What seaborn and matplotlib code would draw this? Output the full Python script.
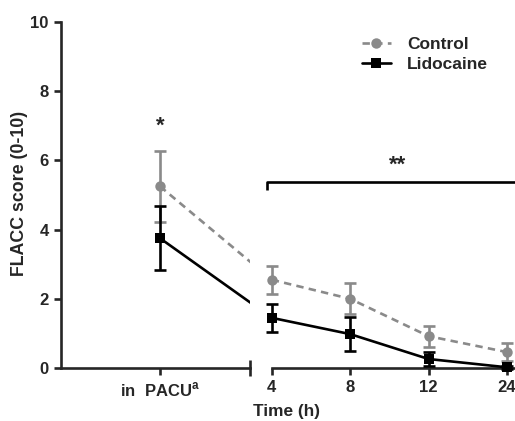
"""FLACC score over time: control vs lidocaine, broken x axis."""

import matplotlib
matplotlib.use("Agg")
import matplotlib.pyplot as plt
from matplotlib.lines import Line2D
import pandas as pd
import seaborn as sns

groups = ["Control", "Lidocaine"]
time_labels = ["4", "8", "12", "24"]
pacu_label = "in  PACU$^\\mathbf{a}$"

control_pacu = 5.25
control_pacu_err = 1.02
control_mean = [2.55, 2.0, 0.92, 0.46]
control_err = [0.4, 0.45, 0.3, 0.27]

lido_pacu = 3.75
lido_pacu_err = 0.92
lido_mean = [1.45, 0.98, 0.26, 0.02]
lido_err = [0.4, 0.48, 0.2, 0.05]

colors = {"Control": "#8a8a8a", "Lidocaine": "#000000"}
markers = {"Control": "o", "Lidocaine": "s"}
dashes = {"Control": (2.8, 2.0), "Lidocaine": ""}

sns.set_style("ticks")
plt.rcParams["font.family"] = ["Liberation Sans", "DejaVu Sans"]
plt.rcParams["font.weight"] = "bold"
plt.rcParams["font.size"] = 12
plt.rcParams["mathtext.fontset"] = "custom"
plt.rcParams["mathtext.bf"] = "Liberation Sans:bold"
plt.rcParams["mathtext.rm"] = "Liberation Sans:bold"

W, H = 515, 421
fig = plt.figure(figsize=(W / 100, H / 100), dpi=100)
y0, y1 = 368, 22
ax_l = fig.add_axes([61 / W, (H - y0) / H, (250 - 61) / W, (y0 - y1) / H])
ax_r = fig.add_axes([269 / W, (H - y0) / H, (514 - 269) / W, (y0 - y1) / H], sharey=ax_l)

lw = 1.9
ms = 7.5
ax_l.set_xlim(-1, 0.909)
ax_r.set_xlim(-0.035, 3.09)
ax_l.set_ylim(0, 10)

df = pd.DataFrame({
    "pos": list(range(4)) * 2,
    "score": control_mean + lido_mean,
    "err": control_err + lido_err,
    "group": ["Control"] * 4 + ["Lidocaine"] * 4,
})
pacu = pd.DataFrame({
    "pos": [0, 0],
    "score": [control_pacu, lido_pacu],
    "err": [control_pacu_err, lido_pacu_err],
    "group": groups,
})

# line from PACU towards the 4 h point, clipped by the axis break
x4_disp = ax_r.transData.transform((0, 0))[0]
x4_left = ax_l.transData.inverted().transform((x4_disp, 0))[0]
for i, g in enumerate(groups):
    first = df[df.group == g].iloc[0]
    ax_l.plot([0, x4_left], [pacu.score[i], first.score], color=colors[g],
              lw=lw, dashes=dashes[g] if dashes[g] else (None, None),
              zorder=2 + i)

for ax, d in [(ax_l, pacu), (ax_r, df)]:
    for i, g in enumerate(groups):
        sub = d[d.group == g]
        ax.errorbar(sub.pos, sub.score, yerr=sub.err, fmt="none",
                    ecolor=colors[g], elinewidth=lw, capsize=4, capthick=lw,
                    zorder=2 + i, clip_on=False)

sns.lineplot(data=df, x="pos", y="score", hue="group", style="group",
             palette=colors, markers=markers, dashes=dashes, markersize=ms,
             markeredgewidth=0, linewidth=lw, ax=ax_r, legend=False,
             clip_on=False, zorder=4)
sns.lineplot(data=pacu, x="pos", y="score", hue="group", style="group",
             palette=colors, markers=markers, markersize=ms,
             markeredgewidth=0, ax=ax_l, legend=False, clip_on=False, zorder=4)
# keep lidocaine on top
for ax in (ax_l, ax_r):
    for line in ax.lines:
        if line.get_color() in ("#000000", (0.0, 0.0, 0.0)):
            line.set_zorder(5)

# axes styling
for ax in (ax_l, ax_r):
    ax.spines["top"].set_visible(False)
    ax.spines["right"].set_visible(False)
    ax.spines["bottom"].set_linewidth(lw)
    ax.spines["left"].set_linewidth(lw)
    ax.tick_params(width=lw, length=5, labelsize=12, pad=4)
    ax.set_xlabel("")
    ax.set_ylabel("")

ax_l.set_xticks([0])
ax_l.set_xticklabels([pacu_label], fontweight="bold")
ax_l.set_yticks([0, 2, 4, 6, 8, 10])
ax_l.set_ylabel("FLACC score (0-10)", fontweight="bold", fontsize=12.8)
ax_l.yaxis.set_label_coords(-0.175, 0.505)
ax_l.set_xticks([0.909], minor=True)
ax_l.tick_params(axis="x", which="minor", direction="inout", length=11, width=lw)

ax_r.spines["left"].set_visible(False)
ax_r.spines["bottom"].set_bounds(0, 3.09)
ax_r.tick_params(axis="y", left=False, labelleft=False)
ax_r.set_xticks(range(4))
ax_r.set_xticklabels(time_labels, fontweight="bold")
ax_r.set_xticks([0], minor=True)
ax_r.tick_params(axis="x", which="minor", direction="inout", length=11, width=lw)
ax_r.set_xlabel("Time (h)", fontweight="bold", fontsize=12.4)
ax_r.xaxis.set_label_coords(0.07, -0.105)

# significance marks
ax_l.text(0, 7.0, "*", ha="center", va="center", fontsize=16, fontweight="bold")
ax_r.plot([-0.06, -0.06, 3.12], [5.15, 5.38, 5.38], color="black", lw=lw,
          clip_on=False, solid_capstyle="butt")
ax_r.text(1.6, 5.85, "**", ha="center", va="center", fontsize=16, fontweight="bold")

# legend
handles = [
    Line2D([], [], color=colors[g], marker=markers[g], markersize=ms,
           markeredgewidth=0, lw=lw,
           dashes=dashes[g] if dashes[g] else (None, None))
    for g in groups
]
fig.legend(handles, groups, loc="upper left", bbox_to_anchor=(346 / W, 1 - 21 / H),
           frameon=False, handlelength=1.7, handletextpad=0.9, labelspacing=0.3,
           prop={"weight": "bold", "size": 12.5})

fig.savefig("out.png", dpi=100)
